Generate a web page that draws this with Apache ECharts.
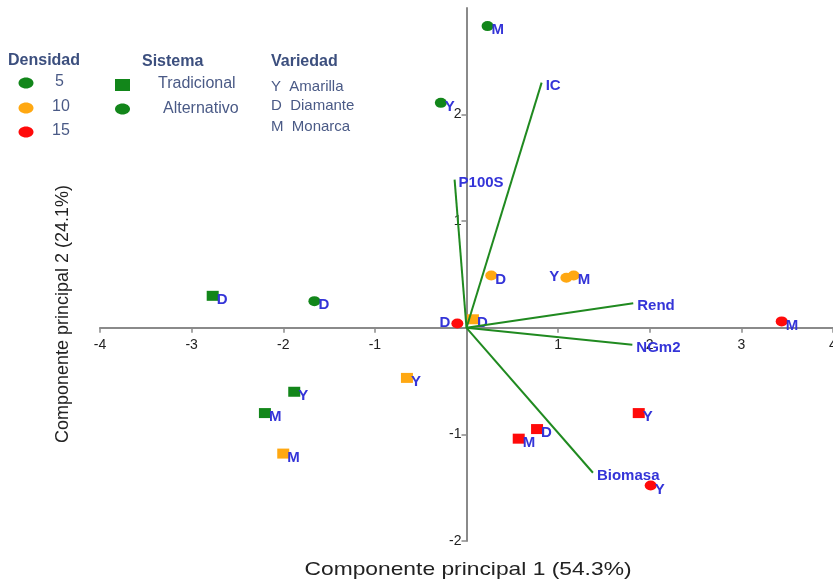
<!DOCTYPE html>
<html>
<head>
<meta charset="utf-8">
<script src="https://cdn.jsdelivr.net/npm/echarts@6/dist/echarts.min.js"></script>
<style>
  html, body { margin: 0; padding: 0; background: #fff; }
  #chart { width: 833px; height: 581px; }
</style>
</head>
<body>
<div id="chart"></div>
<script>
// PCA biplot: treatment scores (density x system x variety) and variable loadings

// Scores: [PC1, PC2, variety]
const dens5Trad  = [[-2.77, 0.30, 'D'], [-1.88, -0.60, 'Y'], [-2.20, -0.80, 'M']];
const dens5Alt   = [[0.23, 2.83, 'M'], [-0.28, 2.11, 'Y'], [-1.66, 0.25, 'D']];
const dens10Trad = [[0.07, 0.08, 'D'], [-0.65, -0.47, 'Y'], [-2.00, -1.18, 'M']];
const dens10Alt  = [[0.27, 0.49, 'D'], [1.09, 0.47, 'Y'], [1.17, 0.49, 'M']];
const dens15Trad = [[1.88, -0.80, 'Y'], [0.77, -0.95, 'D'], [0.57, -1.04, 'M']];
const dens15Alt  = [[-0.10, 0.04, 'D'], [3.44, 0.06, 'M'], [2.01, -1.48, 'Y']];

// Loadings (vector end points)
const varNames = ['IC', 'P100S', 'Rend', 'NGm2', 'Biomasa'];
const varPC1   = [0.82, -0.13, 1.82, 1.81, 1.38];
const varPC2   = [2.30, 1.39, 0.23, -0.16, -1.36];

// Tick labels
const xTicks = [-4, -3, -2, -1, 1, 2, 3, 4];
const yTicks = [-2, -1, 1, 2];

// Legend texts
const densLevels = ['5', '10', '15'];
const sysNames = ['Tradicional', 'Alternativo'];
const varietyKeys = ['Y  Amarilla', 'D  Diamante', 'M  Monarca'];

// Points whose letter sits on the left side
const leftLetters = { 'dens10Alt-Y': true, 'dens15Alt-D': true };

const GREEN = '#12861a';
const ORANGE = '#ffa812';
const RED = '#ff0a0a';
const BLUE = '#3434d8';
const LINE_GREEN = '#208a20';
const LEG_TEXT = '#4a5a86';
const LEG_HEAD = '#3c4f7e';
const FONT = 'Liberation Sans, Arial, sans-serif';

// Plot area and axis ranges; axes cross at the origin
const GRID = { left: 100, right: 0, top: 8, bottom: 40 };
const X_MIN = -4, X_MAX = 4, Y_MIN = -2, Y_MAX = 3;
const W = 833, H = 581;
const plotW = W - GRID.left - GRID.right;
const plotH = H - GRID.top - GRID.bottom;
const xAxisOffset = -plotH * (0 - Y_MIN) / (Y_MAX - Y_MIN);
const yAxisOffset = -plotW * (0 - X_MIN) / (X_MAX - X_MIN);

function scoreSeries(key, arr, color, symbol) {
  return {
    type: 'scatter',
    z: 2,
    symbol: symbol,
    symbolSize: [12, 10],
    itemStyle: { color: color, opacity: 1 },
    data: arr.map(function (p) {
      const left = leftLetters[key + '-' + p[2]];
      return {
        value: [p[0], p[1]],
        name: p[2],
        label: left
          ? { position: [-1, 4], align: 'right', verticalAlign: 'middle' }
          : { position: [10, 9], align: 'left', verticalAlign: 'middle' }
      };
    }),
    label: {
      show: true,
      formatter: '{b}',
      color: BLUE,
      fontFamily: FONT,
      fontSize: 15,
      fontWeight: 'bold'
    },
    emphasis: { disabled: true }
  };
}

const vectorSeries = varNames.map(function (n, i) {
  return {
    type: 'line',
    z: 3,
    symbol: 'circle',
    symbolSize: 2,
    showSymbol: true,
    lineStyle: { color: LINE_GREEN, width: 2 },
    itemStyle: { color: 'rgba(0,0,0,0)' },
    data: [
      { value: [0, 0], label: { show: false } },
      {
        value: [varPC1[i], varPC2[i]],
        name: n,
        label: {
          show: true,
          formatter: '{b}',
          position: [5, 4],
          align: 'left',
          verticalAlign: 'middle',
          color: BLUE,
          fontFamily: FONT,
          fontSize: 15,
          fontWeight: 'bold'
        }
      }
    ],
    emphasis: { disabled: true },
    animation: false
  };
});

// Legend block drawn as graphics
const g = [];
g.push({ type: 'text', left: 8, top: 53, style: { text: 'Densidad', font: 'bold 16px ' + FONT, fill: LEG_HEAD } });
[GREEN, ORANGE, RED].forEach(function (c, i) {
  const cy = [83, 108, 132][i];
  g.push({ type: 'ellipse', shape: { cx: 26, cy: cy, rx: 7.5, ry: 5.5 }, style: { fill: c } });
  g.push({ type: 'text', x: [55, 52, 52][i], y: cy - 1, style: { text: densLevels[i], font: '16px ' + FONT, fill: LEG_TEXT, verticalAlign: 'middle' } });
});
g.push({ type: 'text', left: 142, top: 54, style: { text: 'Sistema', font: 'bold 16px ' + FONT, fill: LEG_HEAD } });
g.push({ type: 'rect', shape: { x: 115, y: 79, width: 15, height: 12 }, style: { fill: GREEN } });
g.push({ type: 'ellipse', shape: { cx: 122.5, cy: 109, rx: 7.5, ry: 5.5 }, style: { fill: GREEN } });
g.push({ type: 'text', x: 158, y: 84, style: { text: sysNames[0], font: '16px ' + FONT, fill: LEG_TEXT, verticalAlign: 'middle' } });
g.push({ type: 'text', x: 163, y: 109, style: { text: sysNames[1], font: '16px ' + FONT, fill: LEG_TEXT, verticalAlign: 'middle' } });
g.push({ type: 'text', left: 271, top: 54, style: { text: 'Variedad', font: 'bold 16px ' + FONT, fill: LEG_HEAD } });
varietyKeys.forEach(function (t, i) {
  g.push({ type: 'text', x: 271, y: [87, 106, 127][i], style: { text: t, font: '15px ' + FONT, fill: LEG_TEXT, verticalAlign: 'middle' } });
});

// Axis titles
g.push({
  type: 'text', x: 468, y: 570, scaleX: 1.2,
  style: { text: 'Componente principal 1 (54.3%)', font: '19px ' + FONT, fill: '#222', align: 'center', verticalAlign: 'middle' }
});
g.push({
  type: 'text', x: 63, y: 314, rotation: Math.PI / 2,
  style: { text: 'Componente principal 2 (24.1%)', font: '18px ' + FONT, fill: '#222', align: 'center', verticalAlign: 'middle' }
});

const option = {
  backgroundColor: '#ffffff',
  animation: false,
  grid: { left: GRID.left, right: GRID.right, top: GRID.top, bottom: GRID.bottom, containLabel: false, outerBoundsMode: 'none' },
  xAxis: {
    type: 'value',
    min: X_MIN, max: X_MAX, interval: 1,
    offset: xAxisOffset,
    splitLine: { show: false },
    axisLine: { onZero: false, lineStyle: { color: '#8a8a8a', width: 2 } },
    axisTick: { show: true, length: 5, customValues: xTicks, lineStyle: { color: '#8a8a8a', width: 1.5 } },
    axisLabel: {
      customValues: xTicks,
      color: '#222', fontSize: 14, fontFamily: FONT, margin: 10,
      showMaxLabel: true, showMinLabel: true, hideOverlap: false
    }
  },
  yAxis: {
    type: 'value',
    min: Y_MIN, max: Y_MAX, interval: 1,
    offset: yAxisOffset,
    splitLine: { show: false },
    axisLine: { onZero: false, lineStyle: { color: '#8a8a8a', width: 2 } },
    axisTick: { show: true, length: 5, customValues: yTicks, lineStyle: { color: '#8a8a8a', width: 1.5 } },
    axisLabel: {
      customValues: yTicks,
      color: '#222', fontSize: 14, fontFamily: FONT, margin: 5
    }
  },
  graphic: g,
  series: [
    scoreSeries('dens5Trad', dens5Trad, GREEN, 'rect'),
    scoreSeries('dens5Alt', dens5Alt, GREEN, 'circle'),
    scoreSeries('dens10Trad', dens10Trad, ORANGE, 'rect'),
    scoreSeries('dens10Alt', dens10Alt, ORANGE, 'circle'),
    scoreSeries('dens15Trad', dens15Trad, RED, 'rect'),
    scoreSeries('dens15Alt', dens15Alt, RED, 'circle')
  ].concat(vectorSeries)
};

const chart = echarts.init(document.getElementById('chart'), null, { renderer: 'canvas' });
chart.setOption(option);
</script>
</body>
</html>
